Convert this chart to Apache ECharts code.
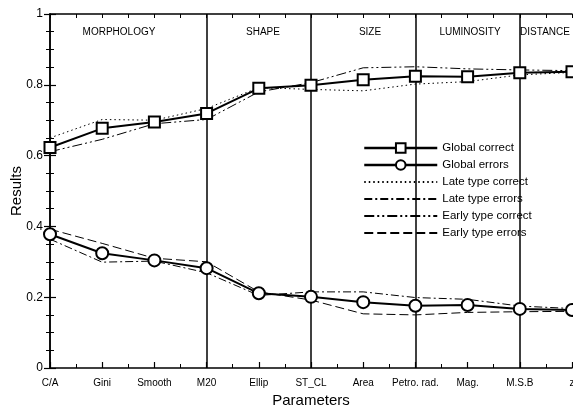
<!DOCTYPE html>
<html><head><meta charset="utf-8">
<script src="https://cdn.jsdelivr.net/npm/echarts@6/dist/echarts.min.js"></script>
<style>html,body{margin:0;padding:0;background:#fff}#c{width:573px;height:412px}</style>
</head><body><div id="c"></div>
<script>
const categories = ['C/A','Gini','Smooth','M20','Ellip','ST_CL','Area','Petro. rad.','Mag.','M.S.B','z'];
const globalCorrect   = [0.623,0.677,0.695,0.719,0.790,0.799,0.814,0.824,0.823,0.834,0.837];
const globalErrors    = [0.378,0.324,0.304,0.282,0.211,0.201,0.186,0.176,0.178,0.167,0.164];
const lateCorrect     = [0.650,0.702,0.700,0.733,0.792,0.787,0.783,0.802,0.809,0.828,0.835];
const lateErrors      = [0.364,0.299,0.302,0.269,0.205,0.215,0.215,0.199,0.194,0.175,0.168];
const earlyCorrect    = [0.611,0.646,0.690,0.702,0.780,0.806,0.848,0.851,0.845,0.842,0.840];
const earlyErrors     = [0.392,0.352,0.310,0.300,0.215,0.192,0.153,0.150,0.157,0.159,0.160];
const sectionBreaks   = ['M20','ST_CL','Petro. rad.','M.S.B'];
const sectionNames    = ['MORPHOLOGY','SHAPE','SIZE','LUMINOSITY','DISTANCE'];
const sectionLabelX   = [119,263,370,470,545];
const FONT = 'Liberation Sans, Arial, sans-serif';
const chart = echarts.init(document.getElementById('c'), null, {renderer:'canvas'});
const thin = (name, data, type) => ({
  name, type:'line', data, xAxisIndex:0, yAxisIndex:0,
  symbol:'none', lineStyle:{color:'#000', width:1, type}, itemStyle:{color:'#000'}, z:2
});
const hiddenSym = {color:'rgba(0,0,0,0)', borderColor:'rgba(0,0,0,0)', borderWidth:0};
chart.setOption({
  animation:false,
  grid:{left:50, right:1, top:14, bottom:44, outerBoundsMode:'none', containLabel:false},
  legend:{
    orient:'vertical', left:358, top:137, itemWidth:73, itemHeight:12, itemGap:5,
    textStyle:{fontFamily:FONT, fontSize:11.5, color:'#000'},
    data:[
      {name:'Global correct', lineStyle:{width:2.5}},
      {name:'Global errors', lineStyle:{width:2.5}},
      {name:'Late type correct', itemStyle:hiddenSym},
      {name:'Late type errors', itemStyle:hiddenSym},
      {name:'Early type correct', itemStyle:hiddenSym},
      {name:'Early type errors', itemStyle:hiddenSym}
    ]
  },
  xAxis:[
    {type:'category', data:categories, boundaryGap:false, position:'bottom',
     name:'Parameters', nameLocation:'middle', nameGap:25, nameMoveOverlap:false,
     nameTextStyle:{fontFamily:FONT, fontSize:15, color:'#000'},
     axisLine:{lineStyle:{color:'#000', width:1.5}},
     axisTick:{inside:true, length:6, interval:0, lineStyle:{color:'#000', width:1.2}},
     axisLabel:{fontFamily:FONT, fontSize:10, color:'#000', margin:10, interval:0, hideOverlap:false}},
    {type:'value', min:0, max:10, interval:0.5, position:'bottom',
     axisLine:{show:false}, axisLabel:{show:false}, splitLine:{show:false},
     axisTick:{inside:true, length:4, lineStyle:{color:'#000', width:1}}},
    {type:'value', min:0, max:10, interval:0.5, position:'top',
     axisLine:{show:true, lineStyle:{color:'#000', width:1.5}}, axisLabel:{show:false}, splitLine:{show:false},
     axisTick:{inside:true, length:4, lineStyle:{color:'#000', width:1}}}
  ],
  yAxis:[
    {type:'value', min:0, max:1, interval:0.2, position:'left',
     name:'Results', nameLocation:'middle', nameGap:26, nameMoveOverlap:false,
     nameTextStyle:{fontFamily:FONT, fontSize:15, color:'#000'},
     axisLine:{show:true, lineStyle:{color:'#000', width:1.5}},
     axisTick:{inside:true, length:6, lineStyle:{color:'#000', width:1.2}},
     minorTick:{show:true, splitNumber:4, length:4, lineStyle:{color:'#000', width:1}},
     splitLine:{show:false}, minorSplitLine:{show:false},
     axisLabel:{fontFamily:FONT, fontSize:12, color:'#000', margin:7,
       formatter:v => v===0?'0':(v===1?'1':v.toFixed(1))}},
    {type:'value', min:0, max:1, interval:0.2, position:'right',
     axisLine:{show:true, lineStyle:{color:'#000', width:1.5}},
     axisTick:{inside:true, length:6, lineStyle:{color:'#000', width:1.2}},
     minorTick:{show:true, splitNumber:4, length:4, lineStyle:{color:'#000', width:1}},
     splitLine:{show:false}, axisLabel:{show:false}}
  ],
  graphic: sectionNames.map((n,i) => ({
    type:'text', x:sectionLabelX[i], y:27, z:100,
    style:{text:n, fontFamily:FONT, fontSize:10, fill:'#000', textAlign:'center'}
  })),
  series:[
    {name:'Global correct', type:'line', data:globalCorrect, symbol:'rect', symbolSize:11,
     lineStyle:{color:'#000', width:2}, itemStyle:{color:'#fff', borderColor:'#000', borderWidth:2}, z:5,
     markLine:{silent:true, symbol:'none', label:{show:false},
       lineStyle:{color:'#000', width:1.5, type:'solid'},
       data: sectionBreaks.map(c => ({xAxis:c}))}},
    {name:'Global errors', type:'line', data:globalErrors, symbol:'circle', symbolSize:12,
     lineStyle:{color:'#000', width:2}, itemStyle:{color:'#fff', borderColor:'#000', borderWidth:2}, z:5},
    thin('Late type correct', lateCorrect, [1.5,3]),
    thin('Late type errors', lateErrors, [8,3,2,3]),
    thin('Early type correct', earlyCorrect, [10,3,2,3,2,3]),
    thin('Early type errors', earlyErrors, [9,4])
  ]
});
</script></body></html>
